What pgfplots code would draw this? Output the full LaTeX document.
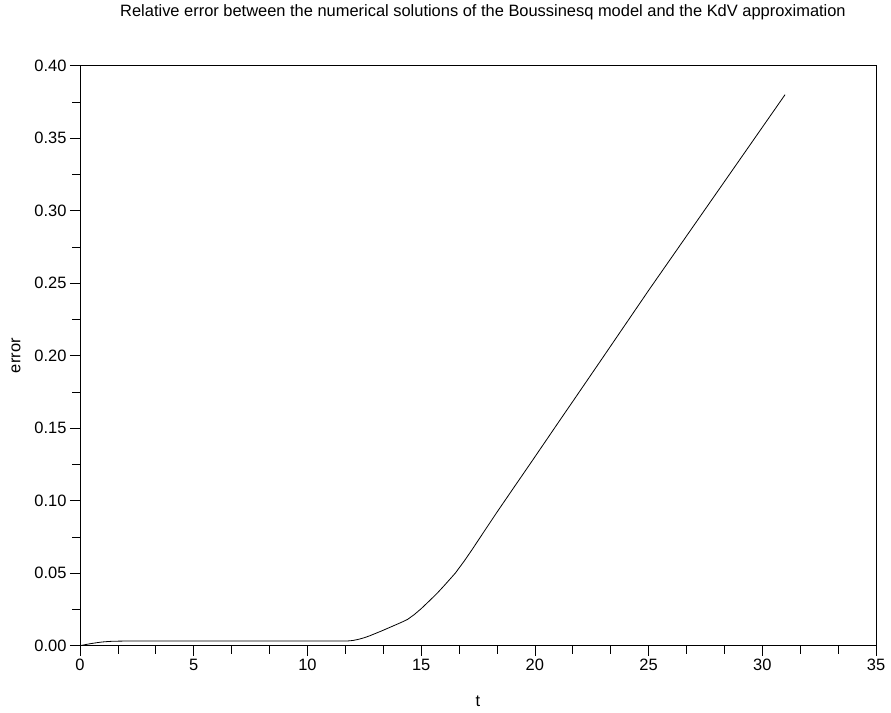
\documentclass[border=0pt]{standalone}
\usepackage{fontspec}
\setmainfont{Liberation Sans}
\usepackage{pgfplots}
\pgfplotsset{compat=1.18}
\begin{document}
\begin{tikzpicture}[x=1bp,y=1bp]
\useasboundingbox (0,0) rectangle (891,713);
\begin{axis}[
  at={(80bp,67.3bp)}, anchor=south west,
  scale only axis, width=796bp, height=580bp,
  xmin=0, xmax=35, ymin=0, ymax=0.40,
  xtick={0,5,...,35}, ytick={0,0.05,...,0.4},
  minor x tick num=2, minor y tick num=1,
  tick align=outside, xtick pos=left, ytick pos=left,
  major tick length=10bp, minor tick length=8bp,
  tick style={black, line width=0.7bp},
  axis line style={black, line width=0.8bp},
  every tick label/.append style={font=\fontsize{16.5}{20}\selectfont},
  /pgf/number format/assume math mode=true,
  xticklabel style={/pgf/number format/fixed},
  yticklabel style={/pgf/number format/.cd, fixed, fixed zerofill, precision=2},
  xlabel={t}, ylabel={error},
  label style={font=\fontsize{16.5}{20}\selectfont},
  xlabel style={at={(axis description cs:0.5,0)}, anchor=center, yshift=-56bp},
  ylabel style={at={(axis description cs:0,0.5)}, anchor=center, yshift=64bp},
  title={Relative error between the numerical solutions of the Boussinesq model and the KdV approximation},
  title style={font=\fontsize{16.5}{20}\selectfont, at={(axis description cs:0.5,1)}, anchor=center, yshift=47.7bp, xshift=5bp},
  clip=false,
]
\addplot[black, line width=0.8bp] coordinates {
(0,0) (0.25,0.0008) (0.5,0.0015) (0.75,0.0021) (1,0.0026) (1.25,0.0029) (1.5,0.0031) (2,0.0032)
(4,0.0032) (6,0.0032) (8,0.0032) (10,0.0032) (11.6,0.0032) (11.8,0.0033) (12,0.0036)
(12.25,0.0044) (12.5,0.0055) (12.75,0.0069) (13,0.0085) (13.25,0.0101) (13.5,0.0118)
(13.75,0.0135) (14,0.0152) (14.2,0.0166) (14.4,0.0181) (14.7,0.0215) (15,0.0255)
(15.4,0.0315) (15.7,0.0361) (16,0.0412) (16.5,0.0500) (16.9,0.0585) (17.25,0.0665)
(17.6,0.0748) (18.3,0.0913) (19.05,0.1085) (19.8,0.1256) (20.5,0.1417) (21.1,0.1555)
(21.7,0.1692) (23,0.1990) (25,0.2450) (27,0.2900) (29,0.3350) (31,0.3800)
};
\end{axis}
\end{tikzpicture}
\end{document}
